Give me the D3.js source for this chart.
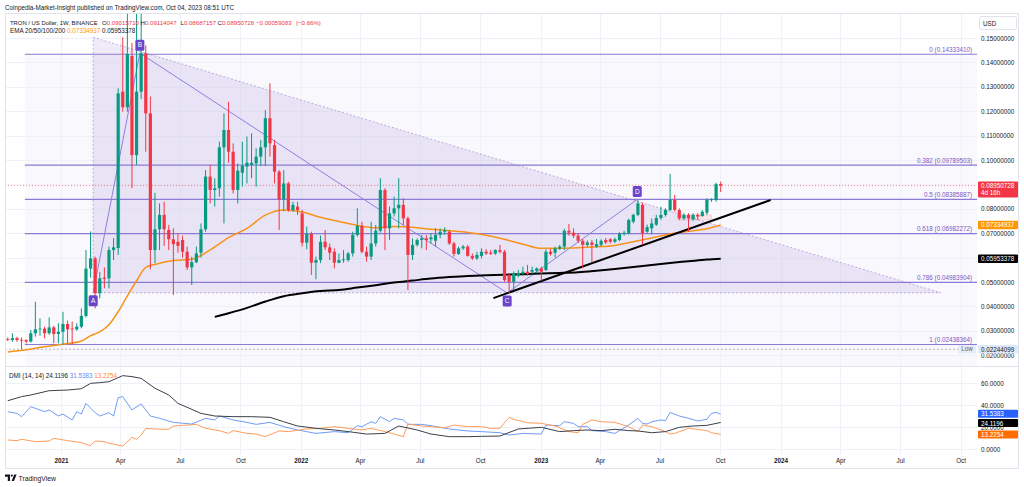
<!DOCTYPE html>
<html lang="en">
<head>
<meta charset="UTF-8">
<title>TRON / US Dollar, 1W</title>
<script src="https://cdn.jsdelivr.net/npm/d3@7/dist/d3.min.js"></script>
<style>
  html, body { margin: 0; padding: 0; background: #fff; }
  svg { display: block; font-family: "Liberation Sans", Arial, sans-serif; }
</style>
</head>
<body>
<script>
const W = 1024, H = 487;

// weekly candles, first one is the week of 2020-10-12
const firstWeek = new Date(2020, 9, 12);
const opens = [0.0266,0.0262,0.0270,0.0263,0.0262,0.0256,0.0290,0.0306,0.0309,0.0290,
  0.0314,0.0287,0.0296,0.0328,0.0309,0.0306,0.0317,0.0361,0.0555,0.0597,
  0.0454,0.0518,0.0515,0.0631,0.0639,0.1280,0.1216,0.1426,0.1020,0.1280,
  0.1437,0.1191,0.0631,0.0716,0.0775,0.0713,0.0675,0.0665,0.0672,0.0624,
  0.0560,0.0581,0.0620,0.0716,0.0932,0.0877,0.0884,0.1052,0.1123,0.1034,
  0.0877,0.0948,0.0973,0.0980,0.0986,0.1014,0.1052,0.1171,0.1061,0.0952,
  0.0839,0.0904,0.0795,0.0809,0.0781,0.0661,0.0697,0.0579,0.0590,0.0665,
  0.0642,0.0624,0.0579,0.0589,0.0590,0.0617,0.0693,0.0730,0.0624,0.0604,
  0.0658,0.0710,0.0877,0.0720,0.0781,0.0802,0.0816,0.0761,0.0611,0.0652,
  0.0672,0.0679,0.0675,0.0669,0.0693,0.0706,0.0706,0.0658,0.0615,0.0638,
  0.0645,0.0607,0.0597,0.0607,0.0624,0.0620,0.0617,0.0631,0.0624,0.0529,
  0.0501,0.0525,0.0536,0.0542,0.0542,0.0546,0.0556,0.0549,0.0624,0.0620,
  0.0637,0.0645,0.0710,0.0702,0.0690,0.0669,0.0652,0.0662,0.0645,0.0652,
  0.0672,0.0675,0.0665,0.0672,0.0697,0.0699,0.0747,0.0775,0.0816,0.0706,
  0.0720,0.0735,0.0762,0.0775,0.0795,0.0836,0.0795,0.0761,0.0775,0.0757,
  0.0775,0.0770,0.0784,0.0836,0.0836,0.09015710];
const highs = [0.0273,0.0290,0.0276,0.0273,0.0265,0.0303,0.0419,0.0351,0.0317,0.0355,
  0.0320,0.0331,0.0378,0.0342,0.0338,0.0331,0.0392,0.0631,0.0707,0.0604,
  0.0542,0.0560,0.0645,0.0680,0.1294,0.1503,0.1800,0.1480,0.1600,0.1700,
  0.1470,0.1260,0.0866,0.0822,0.0829,0.0734,0.0720,0.0700,0.0690,0.0645,
  0.0604,0.0645,0.0740,0.0959,0.0980,0.0925,0.1075,0.1191,0.1239,0.1068,
  0.0986,0.1075,0.1096,0.1109,0.1048,0.1082,0.1205,0.1314,0.1082,0.0959,
  0.0959,0.0911,0.0829,0.0829,0.0795,0.0727,0.0706,0.0604,0.0690,0.0713,
  0.0658,0.0638,0.0617,0.0631,0.0624,0.0706,0.0802,0.0747,0.0645,0.0747,
  0.0734,0.0925,0.0884,0.0809,0.0850,0.0925,0.0843,0.0768,0.0679,0.0679,
  0.0693,0.0693,0.0700,0.0720,0.0720,0.0724,0.0713,0.0665,0.0645,0.0652,
  0.0652,0.0617,0.0624,0.0638,0.0634,0.0631,0.0634,0.0652,0.0631,0.0536,
  0.0543,0.0549,0.0563,0.0570,0.0563,0.0560,0.0563,0.0634,0.0636,0.0645,
  0.0652,0.0718,0.0738,0.0720,0.0700,0.0676,0.0670,0.0672,0.0676,0.0675,
  0.0680,0.0680,0.0682,0.0704,0.0710,0.0760,0.0780,0.0836,0.0825,0.0735,
  0.0760,0.0775,0.0808,0.0802,0.0943,0.0857,0.0802,0.0782,0.0782,0.0782,
  0.0782,0.0795,0.0843,0.0843,0.0907,0.09114047];
const lows = [0.0258,0.0255,0.0255,0.02244099,0.0248,0.0252,0.0276,0.0280,0.0269,0.0284,
  0.0249,0.0249,0.0242,0.0249,0.0242,0.0300,0.0310,0.0355,0.0518,0.0392,
  0.0433,0.0474,0.0474,0.0590,0.0611,0.1198,0.1198,0.0885,0.0980,0.1250,
  0.1034,0.0552,0.0577,0.0631,0.0648,0.0631,0.0447,0.0620,0.0600,0.0549,
  0.0488,0.0577,0.0600,0.0706,0.0822,0.0809,0.0850,0.0740,0.0989,0.0863,
  0.0822,0.0891,0.0904,0.0925,0.0891,0.0976,0.0976,0.1014,0.0904,0.0713,
  0.0790,0.0788,0.0788,0.0775,0.0645,0.0634,0.0529,0.0511,0.0577,0.0631,
  0.0590,0.0556,0.0577,0.0579,0.0583,0.0604,0.0686,0.0617,0.0583,0.0590,
  0.0645,0.0702,0.0631,0.0672,0.0768,0.0720,0.0734,0.0467,0.0590,0.0645,
  0.0638,0.0631,0.0658,0.0645,0.0679,0.0693,0.0652,0.0604,0.0611,0.0631,
  0.0604,0.0590,0.0590,0.0597,0.0611,0.0611,0.0611,0.0617,0.0501,0.0455,
  0.0467,0.0519,0.0525,0.0525,0.0533,0.0536,0.0505,0.0545,0.0608,0.0600,
  0.0631,0.0631,0.0690,0.0680,0.0660,0.0556,0.0645,0.0580,0.0640,0.0645,
  0.0655,0.0658,0.0660,0.0668,0.0690,0.0695,0.0740,0.0770,0.0652,0.0700,
  0.0695,0.0730,0.0755,0.0768,0.0790,0.0788,0.0754,0.0754,0.0706,0.0750,
  0.0754,0.0768,0.0775,0.0829,0.0829,0.08687157];
const closes = [0.0263,0.0270,0.0262,0.0260,0.0256,0.0290,0.0306,0.0309,0.0290,0.0314,
  0.0287,0.0296,0.0328,0.0306,0.0306,0.0317,0.0361,0.0555,0.0597,0.0454,
  0.0515,0.0513,0.0631,0.0642,0.1273,0.1216,0.1434,0.1020,0.1280,0.1437,
  0.1191,0.0631,0.0716,0.0775,0.0716,0.0675,0.0655,0.0648,0.0624,0.0560,
  0.0581,0.0617,0.0716,0.0932,0.0877,0.0884,0.1052,0.1123,0.1034,0.0877,
  0.0956,0.0976,0.0989,0.0989,0.1014,0.1052,0.1171,0.1068,0.0952,0.0839,
  0.0904,0.0795,0.0816,0.0795,0.0661,0.0699,0.0579,0.0590,0.0665,0.0642,
  0.0620,0.0579,0.0590,0.0593,0.0617,0.0693,0.0730,0.0624,0.0604,0.0658,
  0.0710,0.0877,0.0720,0.0781,0.0802,0.0816,0.0761,0.0611,0.0652,0.0672,
  0.0679,0.0672,0.0683,0.0693,0.0706,0.0713,0.0658,0.0615,0.0638,0.0645,
  0.0607,0.0597,0.0611,0.0624,0.0617,0.0615,0.0631,0.0624,0.0508,0.0501,
  0.0536,0.0536,0.0542,0.0533,0.0549,0.0556,0.0542,0.0624,0.0615,0.0638,
  0.0645,0.0710,0.0702,0.0690,0.0669,0.0652,0.0662,0.0652,0.0655,0.0669,
  0.0662,0.0665,0.0675,0.0699,0.0702,0.0754,0.0775,0.0822,0.0699,0.0725,
  0.0740,0.0762,0.0775,0.0795,0.0836,0.0795,0.0761,0.0775,0.0761,0.0775,
  0.0768,0.0788,0.0836,0.0839,0.09009811,0.08950728];

// EMA lines (week index -> value)
const emaFastIdx = [0,4,8,12,16,18,20,22,24,26,28,30,32,36,40,44,48,52,56,60,64,68,72,76,80,84,88,92,96,100,104,108,112,116,120,124,128,132,136,140,144,148,152,155];
const emaFastVal = [0.0213,0.0222,0.0235,0.0245,0.0258,0.0280,0.0296,0.0325,0.0378,0.0443,
  0.0505,0.0560,0.0572,0.0588,0.0593,0.0632,0.0682,0.0720,0.0774,0.0795,
  0.0787,0.0765,0.0748,0.0732,0.0722,0.0727,0.0724,0.0716,0.0710,0.0703,
  0.0692,0.0675,0.0655,0.0638,0.0638,0.0640,0.0644,0.0650,0.0665,0.0680,
  0.0697,0.0708,0.0718,0.07334937];
const emaSlowIdx = [45,48,52,56,60,64,68,72,76,80,84,88,92,96,100,104,108,112,116,120,124,128,132,136,140,144,148,152,155];
const emaSlowVal = [0.0357,0.0372,0.0394,0.0420,0.0442,0.0454,0.0463,0.0467,0.0477,0.0487,
  0.0498,0.0506,0.0514,0.0520,0.0525,0.0528,0.0530,0.0532,0.0535,0.0537,
  0.0540,0.0546,0.0553,0.0561,0.0570,0.0578,0.0585,0.0592,0.05953378];

// DMI (14, 14)
const adxIdx = [0,3,5,9,13,16,18,20,22,25,27,29,32,35,37,42,45,49,53,57,60,63,67,71,74,78,82,85,89,92,96,100,103,107,111,116,120,123,126,129,132,135,137,140,143,146,149,152,155];
const adxVal = [43.9,47.6,49.1,53.0,53.6,54.8,59.7,60.3,61.2,66.7,65.8,64.2,55.2,49.1,41.5,32.4,30.0,29.4,29.4,28.8,
  24.8,20.9,18.8,17.3,15.8,13.6,14.2,20.9,17.3,13.6,11.2,11.2,11.5,11.8,18.2,19.7,15.8,16.7,17.3,16.7,
  17.9,16.7,16.4,14.8,15.8,19.7,20.9,21.5,24.1196];
const plusIdx = [0,2,3,5,8,9,11,12,14,15,16,17,19,20,22,23,24,25,27,29,31,33,36,40,43,45,46,49,52,54,57,60,63,67,71,74,76,77,79,80,81,83,84,86,87,90,92,96,100,103,107,109,112,116,117,120,121,123,124,126,127,130,132,133,135,137,138,139,140,142,143,144,146,148,150,152,153,154,155];
const plusVal = [33.9,32.4,29.4,38.5,33.9,35.5,30.0,31.8,26.4,33.9,31.8,41.5,33.0,30.0,33.0,30.0,46.7,47.6,35.5,41.0,
  30.0,27.9,24.2,22.7,27.9,26.4,30.0,26.4,24.2,22.4,24.2,20.3,17.3,14.2,15.8,14.8,21.2,20.3,24.8,23.3,
  29.4,24.8,27.9,26.4,22.4,22.4,21.2,18.2,16.4,15.8,14.8,12.7,14.2,13.6,21.8,21.2,24.8,23.3,20.3,20.3,
  16.7,15.8,14.2,16.7,21.8,27.9,23.3,22.7,24.8,26.4,25.8,33.3,30.0,27.9,25.5,27.0,32.4,33.3,31.5383];
const minusIdx = [0,2,3,6,9,10,13,16,18,19,21,22,25,27,28,29,30,33,35,36,39,41,43,46,48,49,52,54,56,59,61,65,68,71,74,77,79,82,84,86,87,90,92,95,97,100,103,105,107,109,110,113,116,119,122,124,125,127,129,132,135,137,138,140,143,144,145,148,150,152,153,155];
const minusVal = [8.2,7.6,8.8,6.7,7.3,9.7,7.6,5.8,3.0,7.3,6.7,5.2,2.7,10.6,8.8,12.7,18.8,17.9,17.9,20.9,
  21.8,22.4,18.8,16.7,14.2,16.7,14.2,13.6,11.2,16.4,15.8,18.2,18.8,20.3,18.8,17.3,18.8,15.8,13.6,11.2,
  22.7,20.9,20.3,19.4,21.8,20.3,20.3,18.8,18.8,28.8,27.0,23.9,23.3,20.9,15.8,14.8,22.4,26.4,24.8,24.2,
  20.3,15.8,21.8,20.3,15.8,13.6,14.2,18.8,17.9,16.7,14.8,13.2254];

// Fibonacci retracement
const fibStart = new Date(2020, 10, 7);
const fibLevels = ["0", "0.382", "0.5", "0.618", "0.786", "1"];
const fibValues = [0.14333410, 0.09789503, 0.08385887, 0.06982272, 0.04983904, 0.02438364];

// ABCD pattern, triangle, trend line, highlight box
const patternNames = ["A", "B", "C", "D"];
const patternDates = [new Date(2021, 1, 19), new Date(2021, 4, 1), new Date(2022, 10, 11), new Date(2023, 4, 28)];
const patternPrices = [0.0456, 0.1438, 0.0455, 0.0838];
const triangleDates = [new Date(2021, 1, 19), new Date(2024, 8, 1), new Date(2021, 1, 19)];
const trianglePrices = [0.1503, 0.0456, 0.0456];
const trendDates = [new Date(2022, 9, 21), new Date(2023, 11, 17)];
const trendPrices = [0.0434, 0.0836];
const boxDates = [new Date(2023, 6, 29), new Date(2023, 8, 18)];
const boxPrices = [0.0775, 0.0754];

// axes
const priceTicks = [0.02,0.03,0.04,0.05,0.06,0.07,0.08,0.09,0.10,0.11,0.12,0.13,0.14,0.15];
const dmiTicks = [0, 20, 40, 60];
const timeTickLabels = ["2021","Apr","Jul","Oct","2022","Apr","Jul","Oct","2023","Apr","Jul","Oct","2024","Apr","Jul","Oct"];
const timeTicks = timeTickLabels.map((d, i) => new Date(2021 + Math.floor(i / 4), (i % 4) * 3, 1));

const up = "#089981", down = "#f23645", ink = "#131722";
const fibColor = "#8c7ad6", patternColor = "#6a45c9";
const fs = 6.3;

const pane = {left: 5, right: 977, top: 13, mainBottom: 366, dmiBottom: 455, bottom: 468, outer: 1018};

const x = d3.scaleTime().domain([new Date(2021, 0, 1), new Date(2024, 0, 1)]).range([61, 780.5]);
const y = d3.scaleLinear().domain([0.02, 0.15]).range([355.2, 38]);
const yd = d3.scaleLinear().domain([0, 60]).range([449, 383]);
const weekDate = i => d3.timeDay.offset(firstWeek, i * 7);

const candles = opens.map((o, i) => ({date: weekDate(i), o: o, h: highs[i], l: lows[i], c: closes[i]}));

const svg = d3.select("body").append("svg").attr("width", W).attr("height", H);
svg.append("rect").attr("width", W).attr("height", H).attr("fill", "#fff");

const defs = svg.append("defs");
defs.append("clipPath").attr("id", "clipMain").append("rect")
  .attr("x", pane.left).attr("y", pane.top)
  .attr("width", pane.right - pane.left).attr("height", pane.mainBottom - pane.top);
defs.append("clipPath").attr("id", "clipDmi").append("rect")
  .attr("x", pane.left).attr("y", pane.mainBottom)
  .attr("width", pane.right - pane.left).attr("height", pane.dmiBottom - pane.mainBottom);

// fib zone background
svg.append("rect")
  .attr("x", x(fibStart)).attr("y", y(fibValues[0]))
  .attr("width", pane.right - x(fibStart)).attr("height", pane.mainBottom - y(fibValues[0]))
  .attr("fill", "rgba(126,87,194,0.045)");

// grid (behind everything else)
const grid = svg.append("g").attr("stroke", "#eef1f8").attr("stroke-width", 1);
grid.selectAll(".vg").data(timeTicks).join("line")
  .attr("x1", d => Math.round(x(d)) + 0.5).attr("x2", d => Math.round(x(d)) + 0.5)
  .attr("y1", pane.top).attr("y2", pane.dmiBottom);
grid.selectAll(".hg").data(priceTicks).join("line")
  .attr("x1", pane.left).attr("x2", pane.right)
  .attr("y1", d => Math.round(y(d)) + 0.5).attr("y2", d => Math.round(y(d)) + 0.5);
grid.selectAll(".dg").data(dmiTicks).join("line")
  .attr("x1", pane.left).attr("x2", pane.right)
  .attr("y1", d => Math.round(yd(d)) + 0.5).attr("y2", d => Math.round(yd(d)) + 0.5);

const main = svg.append("g").attr("clip-path", "url(#clipMain)");
const dmi = svg.append("g").attr("clip-path", "url(#clipDmi)");

// triangle
const triPts = triangleDates.map((d, i) => [x(d), y(trianglePrices[i])]);
main.append("path")
  .attr("d", "M" + triPts.map(p => p.join(",")).join("L") + "Z")
  .attr("fill", "rgba(126,87,194,0.12)")
  .attr("stroke", "rgba(126,87,194,0.45)")
  .attr("stroke-dasharray", "2,2")
  .attr("stroke-width", 1);

// fib lines
main.selectAll(".fib").data(fibValues).join("line")
  .attr("x1", x(fibStart)).attr("x2", pane.right)
  .attr("y1", d => y(d)).attr("y2", d => y(d))
  .attr("stroke", fibColor).attr("stroke-width", 1.1);
main.selectAll(".fibt").data(fibValues).join("text")
  .attr("x", 972).attr("y", d => y(d) - 2.5)
  .attr("text-anchor", "end").attr("font-size", fs).attr("fill", "#7e57c2")
  .text((d, i) => fibLevels[i] + " (" + d.toFixed(8) + ")");

// low and last price lines
const lowVal = d3.min(lows);
const last = candles[candles.length - 1];
main.append("line").attr("x1", pane.left).attr("x2", pane.right)
  .attr("y1", y(lowVal)).attr("y2", y(lowVal))
  .attr("stroke", "#9598a1").attr("stroke-dasharray", "2,2").attr("stroke-opacity", 0.7);
main.append("line").attr("x1", pane.left).attr("x2", pane.right)
  .attr("y1", y(last.c)).attr("y2", y(last.c))
  .attr("stroke", down).attr("stroke-dasharray", "1,2").attr("stroke-opacity", 0.6);

// highlight box
main.append("rect")
  .attr("x", x(boxDates[0])).attr("y", y(boxPrices[0]))
  .attr("width", x(boxDates[1]) - x(boxDates[0])).attr("height", y(boxPrices[1]) - y(boxPrices[0]))
  .attr("fill", "rgba(242,54,69,0.10)").attr("stroke", "rgba(242,54,69,0.25)").attr("stroke-width", 0.6);

// ABCD legs
const pattern = patternDates.map((d, i) => [x(d), y(patternPrices[i])]);
main.append("path")
  .attr("d", d3.line()(pattern))
  .attr("fill", "none").attr("stroke", "#8f7fe0").attr("stroke-width", 1);

// EMA lines
const fastLine = d3.line().curve(d3.curveMonotoneX)
  .x((d, i) => x(weekDate(emaFastIdx[i]))).y(d => y(d));
main.append("path").datum(emaFastVal).attr("d", fastLine)
  .attr("fill", "none").attr("stroke", "#f7931a").attr("stroke-width", 1.5);
const slowLine = d3.line().curve(d3.curveMonotoneX)
  .x((d, i) => x(weekDate(emaSlowIdx[i]))).y(d => y(d));
main.append("path").datum(emaSlowVal).attr("d", slowLine)
  .attr("fill", "none").attr("stroke", "#000").attr("stroke-width", 2);

// trend line
main.append("line")
  .attr("x1", x(trendDates[0])).attr("y1", y(trendPrices[0]))
  .attr("x2", x(trendDates[1])).attr("y2", y(trendPrices[1]))
  .attr("stroke", "#000").attr("stroke-width", 2);

// candles
const cg = main.append("g");
const cand = cg.selectAll("g").data(candles).join("g")
  .attr("fill", d => d.c >= d.o ? up : down)
  .attr("stroke", d => d.c >= d.o ? up : down);
cand.append("line")
  .attr("x1", d => x(d.date)).attr("x2", d => x(d.date))
  .attr("y1", d => y(d.h)).attr("y2", d => y(d.l))
  .attr("stroke-width", 1);
cand.append("rect")
  .attr("x", d => x(d.date) - 1.6).attr("width", 3.2)
  .attr("y", d => y(Math.max(d.o, d.c)))
  .attr("height", d => Math.max(0.8, Math.abs(y(d.o) - y(d.c))))
  .attr("stroke", "none");

// ABCD labels
const lab = svg.append("g");
pattern.forEach((p, i) => {
  const above = i % 2 === 1;
  const cy = Math.max(pane.top + 30, above ? p[1] - 8 : p[1] + 8);
  lab.append("rect").attr("x", p[0] - 4.5).attr("y", cy - 5.5)
    .attr("width", 9).attr("height", 11).attr("rx", 1.5).attr("fill", patternColor);
  lab.append("text").attr("x", p[0]).attr("y", cy + 2.3)
    .attr("text-anchor", "middle").attr("font-size", 6.5).attr("fill", "#fff")
    .text(patternNames[i]);
});

// DMI lines
const dmiLine = idx => d3.line().x((d, i) => x(weekDate(idx[i]))).y(d => yd(d));
dmi.append("path").datum(plusVal).attr("d", dmiLine(plusIdx))
  .attr("fill", "none").attr("stroke", "#6f9cf7").attr("stroke-width", 1);
dmi.append("path").datum(minusVal).attr("d", dmiLine(minusIdx))
  .attr("fill", "none").attr("stroke", "#ff9c5b").attr("stroke-width", 1);
dmi.append("path").datum(adxVal).attr("d", dmiLine(adxIdx))
  .attr("fill", "none").attr("stroke", "#3c3f48").attr("stroke-width", 1);

// frames and separators
const frame = svg.append("g").attr("fill", "none").attr("stroke", "#e0e3eb").attr("stroke-width", 1);
frame.append("rect").attr("x", pane.left + 0.5).attr("y", pane.top + 0.5)
  .attr("width", pane.outer - pane.left).attr("height", pane.bottom - pane.top);
frame.append("line").attr("x1", pane.left).attr("x2", pane.outer)
  .attr("y1", pane.mainBottom + 0.5).attr("y2", pane.mainBottom + 0.5);

// price axis
const pAxis = svg.append("g").attr("transform", `translate(${pane.right},0)`)
  .call(d3.axisRight(y).tickValues(priceTicks).tickFormat(d => d.toFixed(8)).tickSize(0).tickPadding(4));
pAxis.select(".domain").remove();
pAxis.selectAll("text").attr("font-size", fs).attr("fill", ink).attr("font-family", null);

const dAxis = svg.append("g").attr("transform", `translate(${pane.right},0)`)
  .call(d3.axisRight(yd).tickValues(dmiTicks).tickFormat(d => d.toFixed(4)).tickSize(0).tickPadding(4));
dAxis.select(".domain").remove();
dAxis.selectAll("text").attr("font-size", fs).attr("fill", ink).attr("font-family", null);

// time axis
const tAxis = svg.append("g").attr("transform", `translate(0,${pane.dmiBottom})`)
  .call(d3.axisBottom(x).tickValues(timeTicks).tickFormat((d, i) => timeTickLabels[i]).tickSize(0).tickPadding(4));
tAxis.select(".domain").remove();
tAxis.selectAll("text").attr("font-size", fs).attr("fill", ink).attr("font-family", null)
  .attr("font-weight", (d, i) => i % 4 === 0 ? "bold" : null);

// USD box
svg.append("rect").attr("x", 979.5).attr("y", 16.5).attr("width", 37).attr("height", 13)
  .attr("fill", "#fff").attr("stroke", "#e0e3eb").attr("rx", 1.5);
svg.append("text").attr("x", 983).attr("y", 25.5).attr("font-size", fs).attr("fill", ink).text("USD");

// price axis tags
function tag(cy, h, bg, fg, lines) {
  svg.append("rect").attr("x", 978).attr("y", cy - h / 2).attr("width", 40).attr("height", h)
    .attr("fill", bg).attr("rx", 1);
  lines.forEach((t, i) => svg.append("text").attr("x", 981).attr("y", cy - h / 2 + 6.6 + i * 7)
    .attr("font-size", fs).attr("fill", fg).text(t));
}
tag(y(last.c) + 4, 16, down, "#fff", [last.c.toFixed(8), "4d 16h"]);
tag(y(emaFastVal[emaFastVal.length - 1]), 8.5, "#ff9800", "#fff", [emaFastVal[emaFastVal.length - 1].toFixed(8)]);
tag(y(emaSlowVal[emaSlowVal.length - 1]), 8.5, "#000", "#fff", [emaSlowVal[emaSlowVal.length - 1].toFixed(8)]);
tag(y(lowVal), 8.5, "#dde8fb", ink, [lowVal.toFixed(8)]);
svg.append("rect").attr("x", 958).attr("y", y(lowVal) - 4.25).attr("width", 18).attr("height", 8.5)
  .attr("fill", "#e6edf8").attr("rx", 1);
svg.append("text").attr("x", 967).attr("y", y(lowVal) + 2.2).attr("text-anchor", "middle")
  .attr("font-size", fs).attr("fill", "#5d606b").text("Low");

const dmiLast = [adxVal[adxVal.length - 1], plusVal[plusVal.length - 1], minusVal[minusVal.length - 1]];
tag(yd(dmiLast[1]) - 0.5, 8, "#2962ff", "#fff", [dmiLast[1].toFixed(4)]);
tag(yd(dmiLast[0]) + 0.5, 8, "#000", "#fff", [dmiLast[0].toFixed(4)]);
tag(yd(dmiLast[2]), 8, "#ff6d00", "#fff", [dmiLast[2].toFixed(4)]);

// header
svg.append("text").attr("x", 5).attr("y", 9.5).attr("font-size", fs).attr("fill", ink)
  .text("Coinpedia-Market-Insight published on TradingView.com, Oct 04, 2023 08:51 UTC");

svg.append("text").attr("x", 10).attr("y", 24.5).attr("font-size", 5.9).attr("fill", ink)
  .text("TRON / US Dollar, 1W, BINANCE");
const prevClose = closes[closes.length - 2];
const chg = last.c - prevClose;
const ohlcParts = [["O", last.o, 102], ["H", last.h, 140.5], ["L", last.l, 180.5], ["C", last.c, 217.5]];
ohlcParts.forEach(p => {
  const t = svg.append("text").attr("x", p[2]).attr("y", 24.5).attr("font-size", 6.1).attr("fill", ink);
  t.append("tspan").text(p[0]);
  t.append("tspan").attr("fill", down).text(p[1].toFixed(8));
});
svg.append("text").attr("x", 256).attr("y", 24.5).attr("font-size", 6.1).attr("fill", down)
  .text("\u2212" + Math.abs(chg).toFixed(8));
svg.append("text").attr("x", 296).attr("y", 24.5).attr("font-size", 6.1).attr("fill", down)
  .text("(\u2212" + Math.abs(chg / prevClose * 100).toFixed(2) + "%)");

const emaLeg = svg.append("text").attr("x", 10).attr("y", 33).attr("font-size", fs).attr("fill", ink);
emaLeg.append("tspan").text("EMA 20/50/100/200 ");
emaLeg.append("tspan").attr("fill", "#ff9800").text(emaFastVal[emaFastVal.length - 1].toFixed(8));
emaLeg.append("tspan").text(" " + emaSlowVal[emaSlowVal.length - 1].toFixed(8));

const dmiLeg = svg.append("text").attr("x", 9).attr("y", 377.5).attr("font-size", fs).attr("fill", ink);
dmiLeg.append("tspan").text("DMI (14, 14) ");
dmiLeg.append("tspan").attr("fill", ink).text(dmiLast[0].toFixed(4) + " ");
dmiLeg.append("tspan").attr("fill", "#5b8ff9").text(dmiLast[1].toFixed(4) + " ");
dmiLeg.append("tspan").attr("fill", "#ff8a3d").text(dmiLast[2].toFixed(4));

// TradingView logo
const logo = svg.append("g").attr("fill", ink);
logo.append("path").attr("d", "M5,474.5 h5 v6.5 h-2.2 v-4.3 h-2.8 z");
logo.append("circle").attr("cx", 11.8).attr("cy", 475.6).attr("r", 1.1);
logo.append("path").attr("d", "M11.6,481 l2.6,-6.5 h2.4 l-2.6,6.5 z");
svg.append("text").attr("x", 18.5).attr("y", 480.8).attr("font-size", 6.8).attr("fill", ink).text("TradingView");
</script>
</body>
</html>
